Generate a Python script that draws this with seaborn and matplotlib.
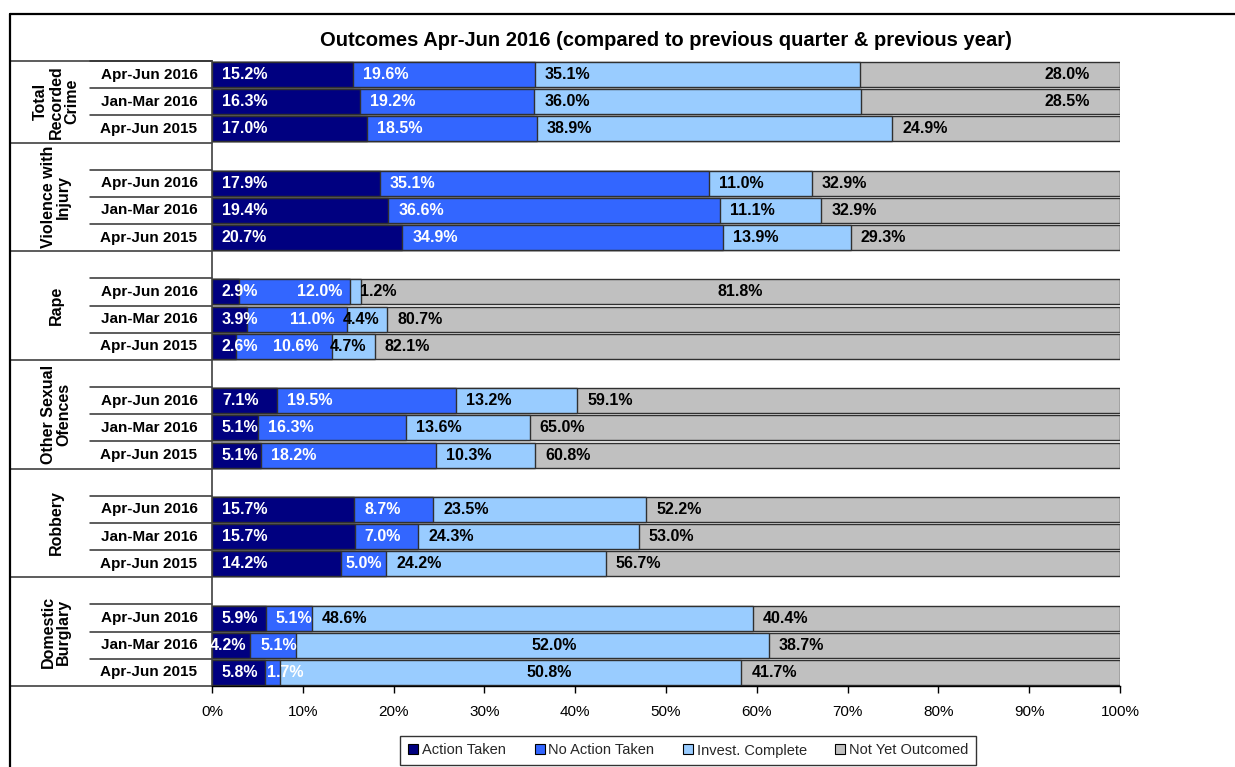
import numpy as np
import pandas as pd
import matplotlib
matplotlib.use("Agg")
import matplotlib.pyplot as plt
from matplotlib.lines import Line2D
import matplotlib.transforms as mtransforms
import seaborn as sns

# ---------------- data ----------------
groups = ["Total Recorded Crime", "Violence with Injury", "Rape",
          "Other Sexual Offences", "Robbery", "Domestic Burglary"]
group_labels = ["Total\nRecorded\nCrime", "Violence with\nInjury", "Rape",
                "Other Sexual\nOfences", "Robbery", "Domestic\nBurglary"]
periods = ["Apr-Jun 2016", "Jan-Mar 2016", "Apr-Jun 2015"]
series = ["Action Taken", "No Action Taken", "Invest. Complete", "Not Yet Outcomed"]

# rows are group-major, periods in the order above
action_taken = [15.2, 16.3, 17.0, 17.9, 19.4, 20.7, 2.9, 3.9, 2.6,
                7.1, 5.1, 5.1, 15.7, 15.7, 14.2, 5.9, 4.2, 5.8]
no_action_taken = [19.6, 19.2, 18.5, 35.1, 36.6, 34.9, 12.0, 11.0, 10.6,
                   19.5, 16.3, 18.2, 8.7, 7.0, 5.0, 5.1, 5.1, 1.7]
invest_complete = [35.1, 36.0, 38.9, 11.0, 11.1, 13.9, 1.2, 4.4, 4.7,
                   13.2, 13.6, 10.3, 23.5, 24.3, 24.2, 48.6, 52.0, 50.8]
not_yet_outcomed = [28.0, 28.5, 24.9, 32.9, 32.9, 29.3, 81.8, 80.7, 82.1,
                    59.1, 65.0, 60.8, 52.2, 53.0, 56.7, 40.4, 38.7, 41.7]

title = "Outcomes Apr-Jun 2016 (compared to previous quarter & previous year)"

# ---------------- styles ----------------
colors = ["#000080", "#3366FF", "#99CCFF", "#C0C0C0"]
label_colors = ["white", "white", "black", "black"]
# label placement overrides: (group, period, series) -> (mode, px)
label_style = {
    (0, 0, 3): ("end", 30), (0, 1, 3): ("end", 30),
    (2, 0, 1): ("end", 8), (2, 1, 1): ("end", 13), (2, 2, 1): ("end", 13),
    (2, 0, 3): ("center", 0), (2, 1, 2): ("center", -6), (2, 2, 2): ("center", -5),
    (4, 2, 1): ("center", 0), (5, 1, 0): ("center", -3),
    (5, 1, 2): ("center", 22), (5, 2, 2): ("center", 38),
    (5, 2, 1): ("base", 2),
}

sns.set_theme(style="white")
plt.rcParams["font.family"] = ["Liberation Sans", "DejaVu Sans"]

# ---------------- build table ----------------
vals = np.array([action_taken, no_action_taken, invest_complete, not_yet_outcomed]).T
shares = vals / vals.sum(axis=1, keepdims=True) * 100.0
cum = np.cumsum(shares, axis=1)

slot_order = []
row_keys = []
for gi, g in enumerate(groups):
    if gi > 0:
        slot_order.append(f"blank{gi}")
    for p in periods:
        key = f"{g}|{p}"
        slot_order.append(key)
        row_keys.append(key)

records = []
for r, key in enumerate(row_keys):
    for si, s in enumerate(series):
        records.append({"slot": key, "series": s, "cum": cum[r, si]})
df = pd.DataFrame(records)

# ---------------- figure ----------------
W, H = 1235, 767
fig = plt.figure(figsize=(W / 100, H / 100), dpi=100)
ax_l, ax_r, ax_t, ax_b = 212, 1120, 61, 686
ax = fig.add_axes([ax_l / W, 1 - ax_b / H, (ax_r - ax_l) / W, (ax_b - ax_t) / H])

for si in reversed(range(len(series))):
    sub = df[df["series"] == series[si]]
    sns.barplot(data=sub, x="cum", y="slot", order=slot_order, color=colors[si],
                orient="h", width=0.92, edgecolor="#303030", linewidth=1.0,
                errorbar=None, saturation=1, ax=ax)

n = len(slot_order)
ax.set_ylim(n - 0.5, -0.5)
ax.set_xlim(0, 100)
ax.set_yticks([])
ax.set_xlabel("")
ax.set_ylabel("")
ax.set_xticks(range(0, 101, 10))
ax.set_xticklabels([f"{v}%" for v in range(0, 101, 10)], fontsize=11, color="black")
ax.tick_params(axis="x", direction="out", length=5, width=1, color="black", pad=9, bottom=True)
for side in ["top", "right"]:
    ax.spines[side].set_visible(False)
ax.spines["left"].set_color("#404040")
ax.spines["left"].set_linewidth(1.2)
ax.spines["bottom"].set_color("black")
ax.spines["bottom"].set_linewidth(1.0)

px = 100.0 / (ax_r - ax_l)  # data units per pixel
slot_pos = {k: i for i, k in enumerate(slot_order)}

# data labels
for r, key in enumerate(row_keys):
    gi, pi = divmod(r, 3)
    y = slot_pos[key]
    for si in range(len(series)):
        start = cum[r, si - 1] if si > 0 else 0.0
        end = cum[r, si]
        mode, off = label_style.get((gi, pi, si), ("base", 10))
        if mode == "base":
            x, ha = start + off * px, "left"
        elif mode == "end":
            x, ha = end - off * px, "right"
        else:
            x, ha = (start + end) / 2 + off * px, "center"
        ax.text(x, y, f"{vals[r, si]:.1f}%", ha=ha, va="center", fontsize=11.5,
                fontweight="bold", color=label_colors[si], clip_on=False, zorder=5)

# left table: lines and labels
trans = mtransforms.blended_transform_factory(ax.transAxes, ax.transData)
x_frame = (10 - ax_l) / (ax_r - ax_l)
x_period = (90 - ax_l) / (ax_r - ax_l)
x_plabel = (149 - ax_l) / (ax_r - ax_l)
x_glabel = (56 - ax_l) / (ax_r - ax_l)
line_kw = dict(color="#303030", lw=1.1, transform=trans, clip_on=False)

idx = 0
for gi, g in enumerate(groups):
    first = idx
    ax.plot([x_frame, 0], [first - 0.5, first - 0.5], **line_kw)
    if gi > 0:
        idx += 1
    for p in periods:
        ax.plot([x_period, 0], [idx - 0.5, idx - 0.5], **line_kw)
        ax.text(x_plabel, idx, p, transform=trans, ha="center", va="center",
                fontsize=11, fontweight="bold", color="black", clip_on=False)
        idx += 1
    last = idx - 1
    ax.text(x_glabel, (first + last) / 2, group_labels[gi], transform=trans,
            ha="center", va="center", rotation=90, fontsize=11.5, fontweight="bold",
            multialignment="center", linespacing=1.05, color="black", clip_on=False)
ax.plot([x_frame, 0], [n - 0.5, n - 0.5], **line_kw)

# outer frame
fig.add_artist(Line2D([10 / W, 10 / W], [0, 1 - 14 / H], transform=fig.transFigure,
                      color="black", lw=1.6))
fig.add_artist(Line2D([10 / W, 1], [1 - 14 / H, 1 - 14 / H], transform=fig.transFigure,
                      color="black", lw=1.6))

# title
fig.text((ax_l + ax_r) / 2 / W, 1 - 41 / H, title, ha="center", va="center",
         fontsize=14.5, fontweight="bold", color="black")

# legend
handles = [Line2D([0], [0], marker="s", linestyle="none", markersize=6.5,
                  markerfacecolor=c, markeredgecolor="black", markeredgewidth=0.8)
           for c in colors]
leg = fig.legend(handles, series, loc="center", bbox_to_anchor=(688 / W, 1 - 750.5 / H),
                 ncol=4, frameon=True, fancybox=False, edgecolor="black", fontsize=10.5,
                 handlelength=0.8, handletextpad=0.2, columnspacing=1.9, borderpad=0.5)
leg.get_frame().set_linewidth(1.0)

fig.savefig("out.png", dpi=100, facecolor="white")
